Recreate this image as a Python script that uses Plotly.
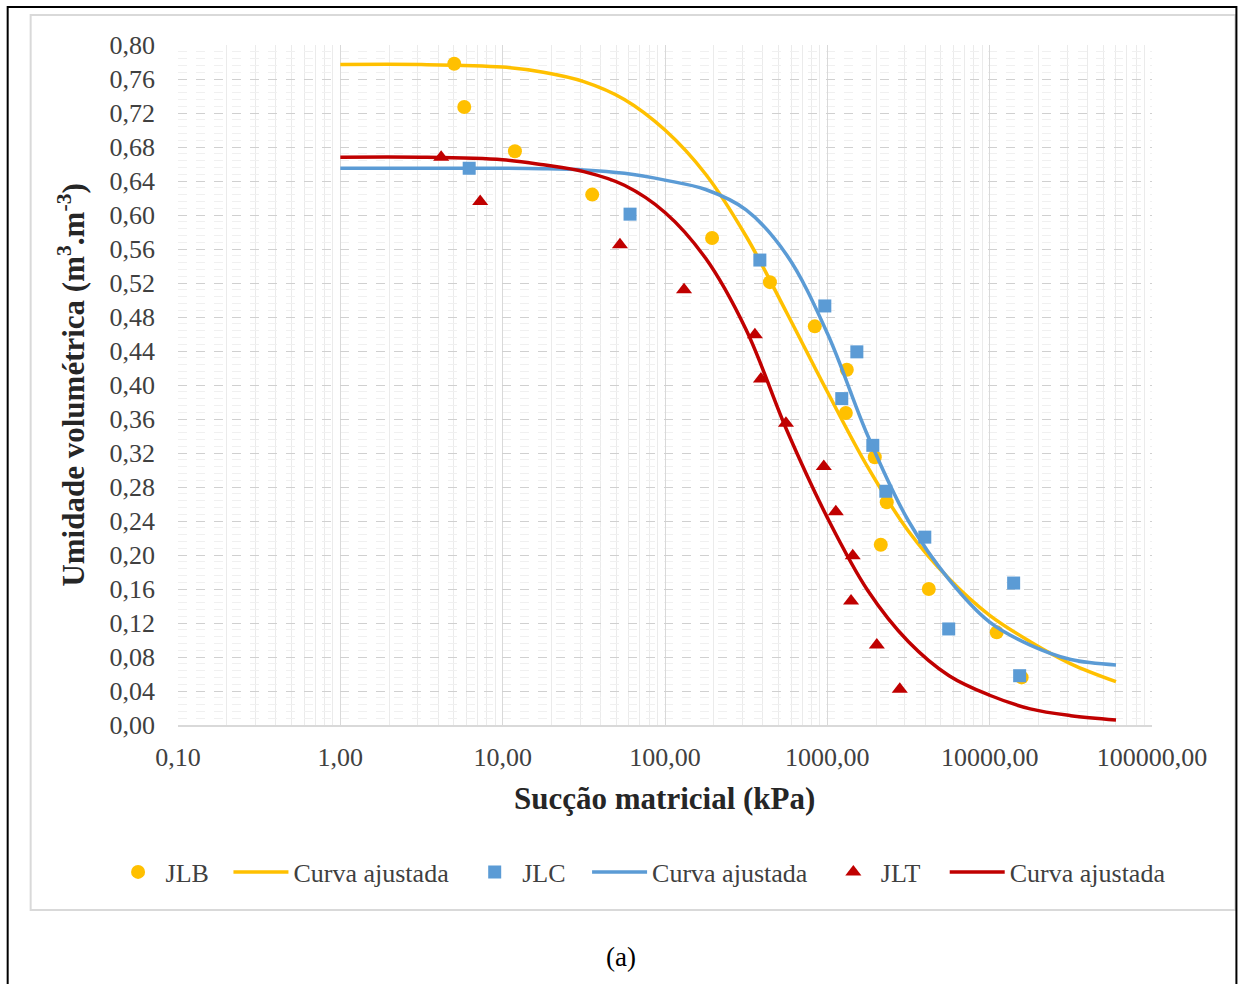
import plotly.graph_objects as go

# ---------------- data ----------------
jlb_x = [5.03, 5.80, 11.9, 35.6, 195, 443, 837, 1318, 1300, 1960, 2323, 2134, 4217, 11050, 15740]
jlb_y = [0.778, 0.727, 0.675, 0.624, 0.573, 0.521, 0.469, 0.418, 0.367, 0.315, 0.262, 0.212, 0.160, 0.109, 0.056]

jlc_x = [6.22, 60.9, 384, 965, 1520, 1227, 1906, 2292, 3985, 14050, 5594, 15300]
jlc_y = [0.655, 0.601, 0.547, 0.493, 0.439, 0.384, 0.329, 0.275, 0.221, 0.167, 0.113, 0.058]

jlt_x = [4.18, 7.27, 52.8, 131, 358, 390, 556, 951, 1128, 1434, 1400, 2017, 2794]
jlt_y = [0.668, 0.616, 0.565, 0.512, 0.459, 0.407, 0.355, 0.304, 0.251, 0.199, 0.146, 0.094, 0.042]

# fitted curves
fit_x = [1, 3.16, 10, 17.8, 31.6, 56.2, 100, 178, 316, 562, 1000, 1778, 3162, 5623,
         10000, 17783, 31623, 60000]
fit_jlb_y = [0.777, 0.777, 0.774, 0.768, 0.757, 0.736, 0.700, 0.648, 0.575, 0.485, 0.392, 0.303,
             0.228, 0.172, 0.129, 0.098, 0.072, 0.051]
fit_jlc_y = [0.655, 0.655, 0.655, 0.6545, 0.653, 0.649, 0.641, 0.630, 0.606, 0.553, 0.461, 0.340,
             0.240, 0.171, 0.121, 0.094, 0.077, 0.0706]
fit_jlt_y = [0.668, 0.668, 0.665, 0.659, 0.651, 0.635, 0.603, 0.549, 0.465, 0.347, 0.244, 0.158,
             0.098, 0.058, 0.035, 0.019, 0.011, 0.006]

x_tick_vals = [0.1, 1, 10, 100, 1000, 10000, 100000]
x_tick_text = ["0,10", "1,00", "10,00", "100,00", "1000,00", "10000,00", "100000,00"]
y_tick_vals = [0.00, 0.04, 0.08, 0.12, 0.16, 0.20, 0.24, 0.28, 0.32, 0.36, 0.40,
               0.44, 0.48, 0.52, 0.56, 0.60, 0.64, 0.68, 0.72, 0.76, 0.80]
y_tick_text = ["0,00", "0,04", "0,08", "0,12", "0,16", "0,20", "0,24", "0,28", "0,32", "0,36", "0,40",
               "0,44", "0,48", "0,52", "0,56", "0,60", "0,64", "0,68", "0,72", "0,76", "0,80"]
x_minor_vals = [k * 10.0 ** d for d in range(-1, 5) for k in range(2, 10)]

YEL = "#FFC000"
BLU = "#5B9BD5"
RED = "#C00000"
FONT = "Liberation Serif"
TXT = "#404040"

L, R, T, B = 177.5, 1152.5, 45, 725
W, H = 1239, 984
pw, ph = R - L, B - T


def px(x):
    return (x - L) / pw


def py(y):
    return (B - y) / ph


fig = go.Figure()
fig.add_trace(go.Scatter(x=jlb_x, y=jlb_y, mode="markers", name="JLB", legend="legend",
                         marker=dict(symbol="circle", size=14, color=YEL)))
fig.add_trace(go.Scatter(x=fit_x, y=fit_jlb_y, mode="lines", name="Curva ajustada", legend="legend2",
                         line=dict(color=YEL, width=3.5, shape="spline", smoothing=1.0)))
fig.add_trace(go.Scatter(x=jlc_x, y=jlc_y, mode="markers", name="JLC", legend="legend3",
                         marker=dict(symbol="square", size=13, color=BLU)))
fig.add_trace(go.Scatter(x=fit_x, y=fit_jlc_y, mode="lines", name="Curva ajustada", legend="legend4",
                         line=dict(color=BLU, width=3.5, shape="spline", smoothing=1.0)))
fig.add_trace(go.Scatter(x=jlt_x, y=jlt_y, mode="markers", name="JLT", legend="legend5",
                         marker=dict(symbol="triangle-up", size=14, color=RED)))
fig.add_trace(go.Scatter(x=fit_x, y=fit_jlt_y, mode="lines", name="Curva ajustada", legend="legend6",
                         line=dict(color=RED, width=3.5, shape="spline", smoothing=1.0)))


def leg(xpix, iw):
    return dict(x=px(xpix), y=py(872), xanchor="left", yanchor="middle", orientation="h",
                font=dict(family=FONT, size=26, color=TXT), itemwidth=iw,
                bgcolor="rgba(0,0,0,0)", borderwidth=0)


legend_left = [110, 228, 467, 587, 826, 945]
legend_iw = [45, 55, 45, 55, 45, 55]

fig.update_layout(
    width=W, height=H,
    margin=dict(l=L, r=W - R, t=T, b=H - B, pad=0),
    paper_bgcolor="white", plot_bgcolor="white",
    font=dict(family=FONT, size=26, color=TXT),
    showlegend=True,
    legend=leg(legend_left[0], legend_iw[0]),
    legend2=leg(legend_left[1], legend_iw[1]),
    legend3=leg(legend_left[2], legend_iw[2]),
    legend4=leg(legend_left[3], legend_iw[3]),
    legend5=leg(legend_left[4], legend_iw[4]),
    legend6=leg(legend_left[5], legend_iw[5]),
    xaxis=dict(type="log", range=[-1, 5], tickmode="array", tickvals=x_tick_vals, ticktext=x_tick_text,
               showgrid=True, gridcolor="#d9d9d9", gridwidth=1, zeroline=False,
               showline=True, linecolor="#d9d9d9", linewidth=1.5, ticks="",
               ticklabelstandoff=8, tickfont=dict(family=FONT, size=26, color=TXT),
               minor=dict(tickmode="array", tickvals=x_minor_vals, showgrid=True,
                          gridcolor="#ebebeb", gridwidth=1, ticks="")),
    yaxis=dict(range=[0, 0.8], tickmode="array", tickvals=y_tick_vals, ticktext=y_tick_text,
               showgrid=True, gridcolor="#d0d0d0", gridwidth=1, griddash="dash", zeroline=False,
               showline=False, ticks="", ticklabelstandoff=22,
               tickfont=dict(family=FONT, size=26, color=TXT),
               minor=dict(tickmode="linear", tick0=0, dtick=0.008, showgrid=True,
                          gridcolor="#f0f0f0", gridwidth=1, ticks="")),
)

fig.add_annotation(text="<b>Sucção matricial (kPa)</b>", xref="paper", yref="paper",
                   x=px(664), y=py(798), showarrow=False, xanchor="center", yanchor="middle",
                   font=dict(family=FONT, size=31, color="#262626"))
fig.add_annotation(text="<b>Umidade volumétrica (m<sup>3</sup>.m<sup>-3</sup>)</b>", xref="paper", yref="paper",
                   x=px(70), y=py(385), showarrow=False, xanchor="center", yanchor="middle", textangle=-90,
                   font=dict(family=FONT, size=31, color="#262626"))
fig.add_annotation(text="(a)", xref="paper", yref="paper", x=px(621), y=py(957), showarrow=False,
                   xanchor="center", yanchor="middle", font=dict(family=FONT, size=27, color="black"))

# chart area border and outer frame
fig.add_shape(type="rect", xref="paper", yref="paper", x0=px(30), x1=px(1236), y0=py(910), y1=py(15),
              line=dict(color="#d9d9d9", width=2), layer="below")
fig.add_shape(type="rect", xref="paper", yref="paper", x0=px(7), x1=px(1237), y0=py(1000), y1=py(7),
              line=dict(color="black", width=2), layer="above")

fig.write_html("out.html")
